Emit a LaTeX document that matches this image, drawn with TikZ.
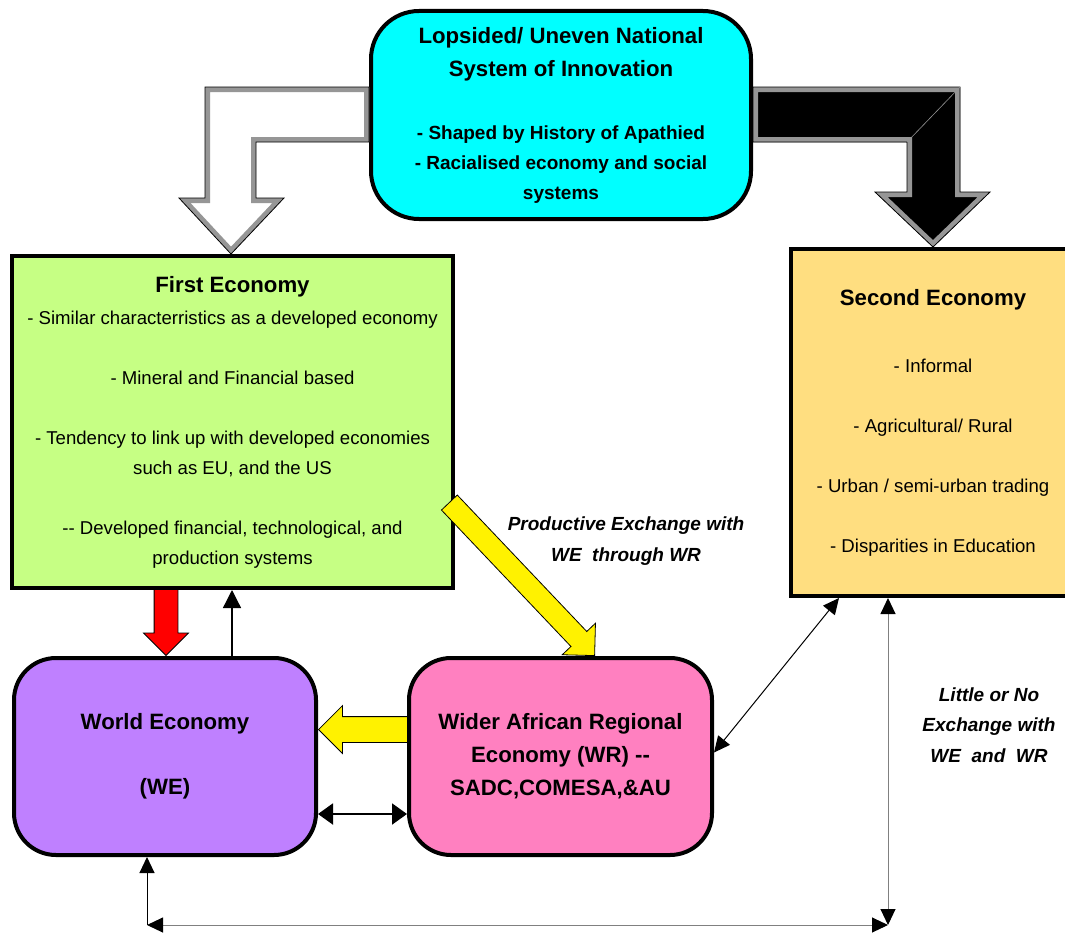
\documentclass[tikz,border=0pt]{standalone}
\usepackage{fontspec}
\setmainfont{Liberation Sans}
\usetikzlibrary{shapes.arrows,arrows.meta,calc}

\definecolor{nsicyan}{RGB}{0,255,255}
\definecolor{firstgreen}{RGB}{198,255,132}
\definecolor{secondsand}{RGB}{255,222,128}
\definecolor{worldviolet}{RGB}{191,128,255}
\definecolor{regionpink}{RGB}{255,128,192}
\definecolor{bevelgray}{RGB}{150,150,150}

\tikzset{
  econbox/.style={draw=black, line width=4pt, align=center, inner sep=0pt},
  roundbox/.style={econbox, rounded corners=42pt},
  blockarrow/.style={single arrow, draw=black, line width=0.8pt, inner xsep=0pt,
    single arrow tip angle=90, anchor=tip},
  thinlink/.style={line width=1pt, {Triangle[length=16pt,width=15pt,color=black]}-{Triangle[length=16pt,width=15pt,color=black]}},
  sidelabel/.style={align=center, font=\bfseries\itshape\fontsize{19}{30.5}\selectfont},
}

\begin{document}
\begin{tikzpicture}[x=1pt, y=-1pt]
  \path[use as bounding box, clip] (0,0) rectangle (1065,934);

  % the five economies
  \node[roundbox, rounded corners=48pt, fill=nsicyan, minimum width=380pt, minimum height=208pt,
    font=\bfseries\fontsize{19}{30}\selectfont] (nsi) at (561,115)
    {{\fontsize{22.2}{33}\selectfont Lopsided/ Uneven National}\\[3pt]
     {\fontsize{22.2}{33}\selectfont System of Innovation}\\[33pt]
     - Shaped by History of Apathied\\
     - Racialised economy and social\\
     systems};
  \node[econbox, fill=firstgreen, minimum width=441pt, minimum height=332pt,
    font=\fontsize{18.6}{30}\selectfont] (first) at (232.5,422)
    {{\bfseries\fontsize{22.2}{30}\selectfont First Economy}\\[2pt]
     - Similar characterristics as a developed economy\\[30pt]
     - Mineral and Financial based\\[30pt]
     - Tendency to link up with developed economies\\
     such as EU, and the US\\[30pt]
     -\kern0pt- Developed financial, technological, and\\
     production systems};
  \node[econbox, fill=secondsand, minimum width=284pt, minimum height=347pt,
    font=\fontsize{18.6}{30}\selectfont] (second) at (933,422.5)
    {{\bfseries\fontsize{22.2}{30}\selectfont Second Economy}\\[37pt]
     - Informal\\[30pt]
     - Agricultural/ Rural\\[30pt]
     - Urban / semi-urban trading\\[30pt]
     - Disparities in Education};
  \node[roundbox, fill=worldviolet, minimum width=302pt, minimum height=197pt,
    font=\bfseries\fontsize{22.2}{33}\selectfont] (we) at (165,756.5)
    {World Economy\\[32pt] (WE)};
  \node[roundbox, fill=regionpink, minimum width=303pt, minimum height=197pt,
    font=\bfseries\fontsize{22.2}{33}\selectfont] (wr) at (560.5,756.5)
    {Wider African Regional\\ Economy (WR) -\kern0pt-\\ SADC,COMESA,\&AU};

  % bent arrows out of the national system
  \path[save path=\leftbent] ($(nsi.west)+(0,-28)$) -- (205,87) -- (205,198) -- (179,198)
    -- ($(first.north)+(-1.5,0)$) -- (284,198) -- (256,198) -- (256,142)
    -- ($(nsi.west)+(0,27)$) -- cycle;
  \fill[white, use path=\leftbent];
  \begin{scope}
    \clip[use path=\leftbent];
    \draw[bevelgray, line width=10pt, use path=\leftbent];
  \end{scope}
  \draw[line width=0.8pt, use path=\leftbent];

  \path[save path=\rightbent] ($(nsi.east)+(0,-28)$) -- (960,87) -- (960,192) -- (990,192)
    -- (second.north) -- (875,192) -- (907,192) -- (907,142)
    -- ($(nsi.east)+(0,27)$) -- cycle;
  \fill[black, use path=\rightbent];
  \begin{scope}
    \clip[use path=\rightbent];
    \draw[bevelgray, line width=10pt, use path=\rightbent];
  \end{scope}
  \draw[line width=0.8pt, use path=\rightbent];
  \draw[bevelgray, line width=0.6pt] (907,142) -- (960,87);

  % block arrows
  \node[blockarrow, fill=red, minimum height=66pt, inner ysep=11.5pt,
    single arrow head extend=10.5pt, rotate=-90] (tofirst)
    at ($(we.north)+(1,0)$) {};
  \node[blockarrow, fill=yellow, minimum height=89pt, inner ysep=12.5pt,
    single arrow head extend=11pt, rotate=180] (toworld)
    at ($(we.east)+(0,-27)$) {};
  \node[blockarrow, fill=yellow, minimum height=211pt, inner ysep=10.5pt,
    single arrow head extend=12pt, rotate=-46.5] (toregion)
    at ($(wr.north)+(34.5,0)$) {};

  % thin links
  \draw[line width=1.3pt, -{Triangle[length=18pt,width=18pt]}]
    ($(we.north)+(67,0)$) -- ($(first.south)+(-0.5,0)$);
  \draw[line width=2pt, {Triangle[length=15pt,width=21pt]}-{Triangle[length=15pt,width=21pt]}]
    ($(we.east)+(0,57.5)$) -- ($(wr.west)+(0,57.5)$);
  \draw[thinlink] ($(wr.east)+(0,-4)$) -- ($(second.south)+(-94,0)$);

  \coordinate (sw) at (147,925);
  \coordinate (se) at (888,925);
  \draw[thinlink, gray] ($(second.south)+(-45,0)$) -- (se);
  \draw[thinlink, gray] (sw) -- (se);
  \draw[line width=1pt, -{Triangle[length=16pt,width=15pt]}] (sw) -- ($(we.south)+(-18,0)$);

  % labels
  \node[sidelabel] (prodlabel) at (626,541) {Productive Exchange with\\ WE~ through WR};
  \node[sidelabel] (littlelabel) at (989,725) {Little or No\\ Exchange with\\ WE~ and~ WR};
\end{tikzpicture}
\end{document}
